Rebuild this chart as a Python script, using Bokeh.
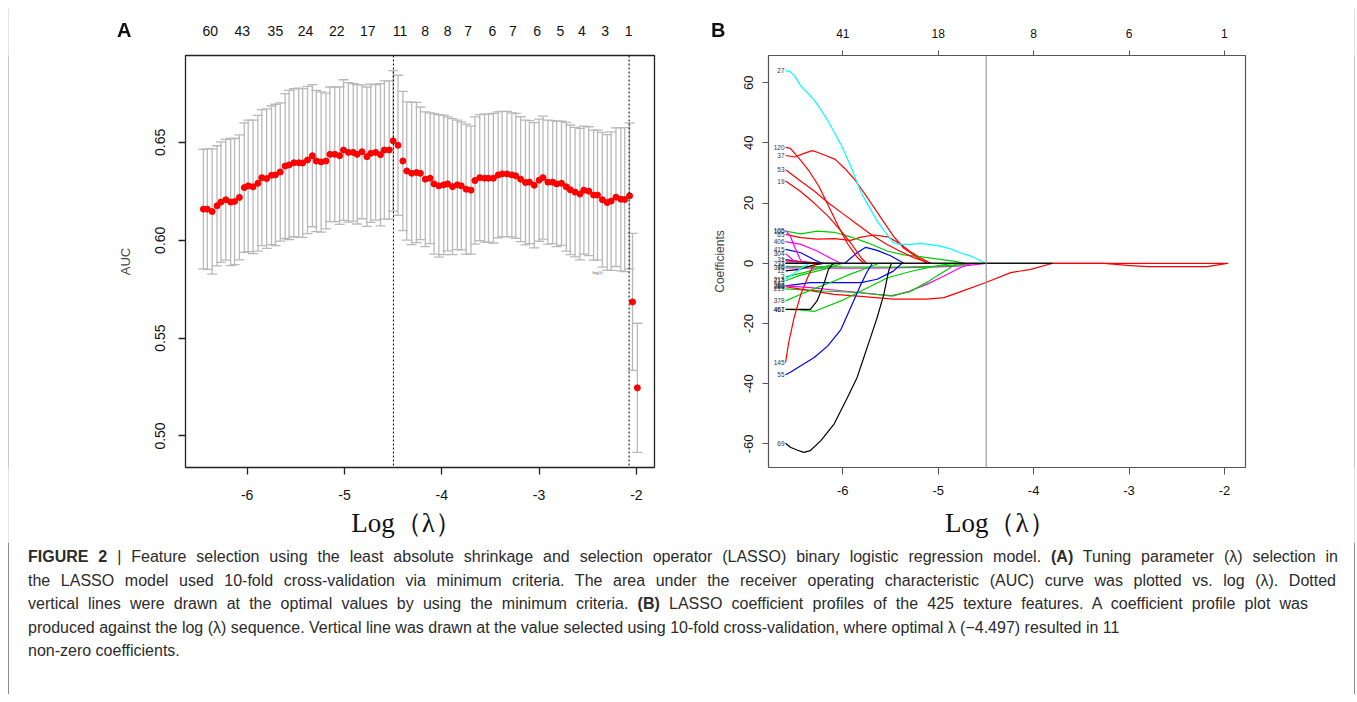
from bokeh.plotting import figure
from bokeh.models import (Range1d, FixedTicker, LinearAxis, Whisker, TeeHead,
                          ColumnDataSource, Span, Label, Div)
from bokeh.layouts import row, column
from bokeh.core.properties import value
from bokeh.embed import file_html
from bokeh.resources import INLINE

# ---------------- Panel A data: cross-validated AUC vs log(lambda) ----------------
log_lambda_a = [-6.45, -6.41, -6.36, -6.31, -6.27, -6.22, -6.17, -6.13, -6.08, -6.03,
                -5.99, -5.94, -5.89, -5.85, -5.80, -5.75, -5.71, -5.66, -5.61, -5.57,
                -5.52, -5.47, -5.43, -5.38, -5.33, -5.29, -5.24, -5.19, -5.15, -5.10,
                -5.05, -5.01, -4.96, -4.91, -4.87, -4.82, -4.77, -4.73, -4.68, -4.63,
                -4.59, -4.54, -4.50, -4.45, -4.40, -4.36, -4.31, -4.26, -4.22, -4.17,
                -4.12, -4.08, -4.03, -3.98, -3.94, -3.89, -3.84, -3.80, -3.75, -3.70,
                -3.66, -3.61, -3.56, -3.52, -3.47, -3.42, -3.38, -3.33, -3.28, -3.24,
                -3.19, -3.14, -3.10, -3.05, -3.00, -2.96, -2.91, -2.86, -2.82, -2.77,
                -2.72, -2.68, -2.63, -2.58, -2.54, -2.49, -2.44, -2.40, -2.35, -2.30,
                -2.26, -2.21, -2.16, -2.12, -2.07, -2.04, -1.99]
auc_mean = [0.6159, 0.6159, 0.6147, 0.6176, 0.6195, 0.6207, 0.6195, 0.6198, 0.6219, 0.6269,
            0.6278, 0.6273, 0.6291, 0.6320, 0.6315, 0.6332, 0.6334, 0.6349, 0.6379, 0.6385,
            0.6396, 0.6396, 0.6395, 0.6410, 0.6432, 0.6405, 0.6400, 0.6405, 0.6439, 0.6439,
            0.6432, 0.6461, 0.6449, 0.6449, 0.6439, 0.6452, 0.6427, 0.6444, 0.6449, 0.6437,
            0.6461, 0.6461, 0.6508, 0.6485, 0.6405, 0.6354, 0.6342, 0.6346, 0.6342, 0.6312,
            0.6317, 0.6288, 0.6278, 0.6283, 0.6288, 0.6274, 0.6283, 0.6278, 0.6261, 0.6256,
            0.6305, 0.6320, 0.6317, 0.6317, 0.6317, 0.6334, 0.6339, 0.6339, 0.6334, 0.6329,
            0.6312, 0.6295, 0.6297, 0.6281, 0.6307, 0.6320, 0.6297, 0.6297, 0.6288, 0.6291,
            0.6273, 0.6258, 0.6246, 0.6236, 0.6256, 0.6251, 0.6231, 0.6231, 0.6207, 0.6193,
            0.6200, 0.6220, 0.6210, 0.6208, 0.6227, 0.5685, 0.5246]
auc_se = [0.0305, 0.0308, 0.0320, 0.0307, 0.0308, 0.0308, 0.0325, 0.0322, 0.0319, 0.0331,
          0.0336, 0.0341, 0.0347, 0.0347, 0.0356, 0.0354, 0.0361, 0.0353, 0.0370, 0.0381,
          0.0378, 0.0381, 0.0380, 0.0376, 0.0363, 0.0361, 0.0358, 0.0347, 0.0344, 0.0344,
          0.0351, 0.0359, 0.0356, 0.0351, 0.0356, 0.0342, 0.0356, 0.0353, 0.0346, 0.0363,
          0.0353, 0.0353, 0.0359, 0.0358, 0.0356, 0.0353, 0.0364, 0.0358, 0.0339, 0.0344,
          0.0334, 0.0359, 0.0364, 0.0356, 0.0342, 0.0347, 0.0331, 0.0327, 0.0332, 0.0327,
          0.0325, 0.0322, 0.0327, 0.0327, 0.0331, 0.0322, 0.0320, 0.0320, 0.0317, 0.0319,
          0.0319, 0.0319, 0.0314, 0.0320, 0.0312, 0.0314, 0.0317, 0.0314, 0.0320, 0.0317,
          0.0329, 0.0331, 0.0331, 0.0336, 0.0327, 0.0329, 0.0332, 0.0332, 0.0344, 0.0347,
          0.0354, 0.0354, 0.0366, 0.0368, 0.0373, 0.0350, 0.0330]
selected_log_lambda_a = [-4.497, -2.075]
top_pos_a = [-6.38, -6.05, -5.71, -5.40, -5.08, -4.76, -4.43, -4.17, -3.94, -3.73,
             -3.48, -3.27, -3.02, -2.78, -2.56, -2.32, -2.08]
top_nz_a = ["60", "43", "35", "24", "22", "17", "11", "8", "8", "7",
            "6", "7", "6", "5", "4", "3", "1"]
y_ticks_a = [0.50, 0.55, 0.60, 0.65]
x_ticks = [-6, -5, -4, -3, -2]

# ---------------- Panel B data: coefficient profiles (log lambda, coefficient) ----------------
b27 = [(-6.60, 64.0), (-6.55, 63.6), (-6.50, 62.0), (-6.44, 58.9), (-6.37, 56.6), (-6.29, 53.8),
       (-6.23, 51.0), (-6.16, 47.5), (-6.09, 43.5), (-6.02, 39.5), (-5.92, 32.5), (-5.81, 23.6),
       (-5.71, 18.0), (-5.64, 14.0), (-5.57, 11.0), (-5.47, 6.8), (-5.40, 6.3), (-5.30, 6.3),
       (-5.19, 6.6), (-5.08, 6.2), (-4.98, 5.7), (-4.87, 4.8), (-4.77, 3.5), (-4.66, 2.4), (-4.50, 0.0)]
b120 = [(-6.60, 38.5), (-6.55, 38.2), (-6.45, 34.5), (-6.35, 30.5), (-6.25, 25.5), (-6.15, 19.0),
        (-6.05, 12.5), (-5.95, 6.5), (-5.85, 2.0), (-5.78, 0.0)]
b37 = [(-6.60, 35.8), (-6.50, 35.3), (-6.40, 36.6), (-6.32, 37.4), (-6.26, 36.8), (-6.18, 35.8),
       (-6.08, 34.5), (-5.98, 31.5), (-5.88, 28.0), (-5.74, 21.7), (-5.60, 15.1), (-5.47, 9.0),
       (-5.36, 5.0), (-5.22, 2.0), (-5.12, 0.0)]
b53 = [(-6.60, 31.1), (-6.45, 27.5), (-6.30, 24.0), (-6.15, 20.0), (-6.00, 16.5), (-5.85, 13.0),
       (-5.70, 9.5), (-5.55, 6.5), (-5.40, 4.0), (-5.25, 1.8), (-5.08, 0.0)]
b19 = [(-6.60, 27.3), (-6.45, 24.0), (-6.30, 20.0), (-6.15, 15.5), (-6.00, 10.0), (-5.90, 6.0),
       (-5.80, 1.5), (-5.75, 0.0)]
b105 = [(-6.60, 10.9), (-6.55, 9.0), (-6.50, 5.0), (-6.45, 1.5), (-6.42, 0.0)]
b100 = [(-6.60, 10.7), (-6.44, 9.8), (-6.27, 10.7), (-6.09, 10.3), (-5.92, 8.8), (-5.74, 6.8),
        (-5.53, 4.0), (-5.36, 2.8), (-5.19, 2.2), (-5.00, 1.4), (-4.84, 0.7), (-4.72, 0.0)]
b65 = [(-6.60, 9.6), (-6.44, 8.5), (-6.27, 8.0), (-6.09, 8.2), (-5.92, 7.6), (-5.81, 8.7),
       (-5.67, 9.4), (-5.53, 8.8), (-5.40, 6.5), (-5.30, 4.0), (-5.19, 1.9), (-5.08, 0.0)]
b406 = [(-6.60, 7.2), (-6.44, 6.3), (-6.27, 4.1), (-6.12, 1.5), (-6.02, 0.0)]
b415 = [(-6.60, 4.6), (-6.44, 3.5), (-6.30, 1.2), (-6.22, 0.0)]
b304 = [(-6.60, 3.2), (-6.52, 1.0), (-6.47, 0.0)]
b233 = [(-6.60, 0.0), (-5.98, 0.0), (-5.85, 3.5), (-5.76, 5.3), (-5.64, 4.3), (-5.50, 2.5), (-5.36, 0.0)]
b31 = [(-6.60, 1.2), (-6.45, 0.6), (-6.30, 0.0)]
b7 = [(-6.60, 0.8), (-6.40, 0.5), (-6.20, 0.0)]
b316 = [(-6.60, -1.5), (-6.00, -1.6), (-5.50, -1.5), (-5.00, -1.2), (-4.70, -0.8), (-4.50, 0.0)]
b40 = [(-6.60, -1.0), (-6.00, -1.2), (-5.40, -1.3), (-5.00, -1.0), (-4.60, 0.0)]
b12 = [(-6.60, -2.5), (-6.45, -2.0), (-6.30, -0.5), (-6.20, 0.0)]
b2 = [(-6.60, -4.5), (-6.40, -3.0), (-6.15, -0.8), (-6.05, 0.0)]
b213 = [(-6.60, -5.3), (-6.48, -2.6), (-6.35, 0.0)]
b214 = [(-6.60, -5.8), (-6.45, -4.0), (-6.20, -2.0), (-6.00, 0.0)]
b83 = [(-6.60, -7.5), (-6.34, -6.4), (-5.99, -6.4), (-5.81, -6.4), (-5.64, -5.3), (-5.47, -2.6), (-5.38, 0.0)]
b266 = [(-6.60, -7.5), (-6.34, -8.1), (-5.99, -9.2), (-5.64, -10.3), (-5.47, -10.8), (-5.30, -9.2),
        (-5.12, -7.0), (-4.94, -4.2), (-4.77, -1.5), (-4.65, 0.0)]
b288 = [(-6.60, -7.8), (-6.44, -8.6), (-6.09, -10.3), (-5.81, -11.0), (-5.47, -11.9), (-5.12, -11.9),
        (-4.94, -11.4), (-4.77, -9.5), (-4.50, -6.4), (-4.24, -3.1), (-4.03, -2.0), (-3.80, 0.0), (-1.96, 0.0)]
b219 = [(-6.60, -8.5), (-6.20, -9.2), (-5.85, -9.7), (-5.50, -10.8), (-5.30, -9.5), (-5.10, -6.0),
        (-4.95, -3.0), (-4.80, 0.0)]
b378 = [(-6.60, -12.5), (-6.44, -10.3), (-6.27, -8.1), (-6.09, -5.9), (-5.92, -3.6), (-5.74, -1.5), (-5.62, 0.0)]
b461 = [(-6.60, -15.3), (-6.45, -15.5), (-6.30, -16.0), (-6.02, -12.5), (-5.74, -8.1), (-5.53, -4.8),
        (-5.30, -2.8), (-5.05, -1.0), (-4.85, 0.0)]
b467 = [(-6.60, -15.3), (-6.34, -15.3), (-6.27, -12.5), (-6.20, -7.0), (-6.15, -2.0), (-6.10, 0.0)]
b145 = [(-6.60, -32.9), (-6.57, -26.8), (-6.51, -18.0), (-6.44, -10.3), (-6.37, -4.8), (-6.32, -1.5), (-6.28, 0.0)]
b55 = [(-6.60, -37.0), (-6.55, -36.2), (-6.44, -34.0), (-6.30, -31.3), (-6.16, -27.5), (-6.02, -22.0),
       (-5.95, -17.0), (-5.88, -12.0), (-5.81, -7.0), (-5.74, -2.5), (-5.69, 0.0)]
b69 = [(-6.60, -59.8), (-6.55, -61.1), (-6.48, -62.0), (-6.41, -62.8), (-6.34, -62.2), (-6.23, -58.9),
       (-6.09, -53.3), (-5.95, -44.5), (-5.85, -37.9), (-5.78, -31.3), (-5.71, -24.7), (-5.64, -18.0),
       (-5.57, -10.3), (-5.52, -2.6), (-5.49, 0.0)]
b_last = [(-3.80, 0.0), (-3.26, 0.0), (-3.02, -0.7), (-2.81, -1.1), (-2.18, -1.1), (-1.97, 0.0)]
zero_path = [(-6.60, 0.0), (-3.80, 0.0)]
selected_log_lambda_b = -4.497
top_nz_b = ["41", "18", "8", "6", "1"]
y_ticks_b = [-60, -40, -20, 0, 20, 40, 60]

R_RED, R_GREEN, R_BLUE, R_CYAN, R_MAG, R_BLACK = "#FF0000", "#00CD00", "#0000FF", "#00FFFF", "#FF00FF", "#000000"
paths_b = [
    ("233", R_BLUE, b233), ("31", R_BLUE, b31), ("7", R_RED, b7), ("316", R_MAG, b316),
    ("40", R_GREEN, b40), ("12", R_BLACK, b12), ("2", R_GREEN, b2), ("213", R_CYAN, b213),
    ("214", R_GREEN, b214), ("83", R_BLUE, b83), ("266", R_MAG, b266), ("219", R_GREEN, b219),
    ("288", R_RED, b288), ("378", R_GREEN, b378), ("461", R_GREEN, b461), ("467", R_BLACK, b467),
    ("145", R_RED, b145), ("55", R_BLUE, b55), ("69", R_BLACK, b69),
    ("304", R_MAG, b304), ("415", R_BLUE, b415), ("406", R_MAG, b406), ("65", R_RED, b65),
    ("100", R_GREEN, b100), ("105", R_MAG, b105), ("19", R_RED, b19), ("53", R_RED, b53),
    ("37", R_RED, b37), ("120", R_RED, b120), ("27", R_CYAN, b27),
]

SANS = "Liberation Sans"
SERIF = "Liberation Serif"
BORDER = "#8c8c8c"
NBSP = "\u00a0"
FIG_H = 535

# ================= Panel A =================
pa = figure(width=691, height=FIG_H, output_backend="svg", toolbar_location=None,
            x_range=Range1d(-6.634, -1.814), y_range=Range1d(0.4839, 0.6944),
            min_border_left=176, min_border_right=46, min_border_top=47, min_border_bottom=74)
pa.grid.visible = False
pa.outline_line_color = "#222222"
pa.outline_line_width = 1.3

xa = pa.xaxis[0]
xa.ticker = FixedTicker(ticks=x_ticks)
xa.major_label_overrides = {t: str(t) for t in x_ticks}
xa.axis_line_color = None
xa.major_tick_out = 7
xa.major_tick_in = 0
xa.minor_tick_line_color = None
xa.major_tick_line_color = "#222222"
xa.major_tick_line_width = 1.3
xa.major_label_standoff = 15
xa.major_label_text_font = SANS
xa.major_label_text_font_size = "14px"
xa.major_label_text_color = "#111111"
xa.axis_label = "Log（λ）" + NBSP * 4
xa.axis_label_text_font = SERIF
xa.axis_label_text_font_style = "normal"
xa.axis_label_text_font_size = "27px"
xa.axis_label_text_color = "#111111"
xa.axis_label_standoff = 5

ya = pa.yaxis[0]
ya.ticker = FixedTicker(ticks=y_ticks_a)
ya.major_label_overrides = {t: "%.2f" % t for t in y_ticks_a}
ya.major_label_orientation = "vertical"
ya.axis_line_color = None
ya.major_tick_out = 7
ya.major_tick_in = 0
ya.minor_tick_line_color = None
ya.major_tick_line_color = "#222222"
ya.major_tick_line_width = 1.3
ya.major_label_standoff = 13
ya.major_label_text_font = SANS
ya.major_label_text_font_size = "14px"
ya.major_label_text_color = "#111111"
ya.axis_label = "AUC"
ya.axis_label_text_font = SANS
ya.axis_label_text_font_style = "normal"
ya.axis_label_text_font_size = "13px"
ya.axis_label_standoff = 20

top_a = LinearAxis(ticker=FixedTicker(ticks=top_pos_a),
                   major_label_overrides={p: s for p, s in zip(top_pos_a, top_nz_a)},
                   axis_line_color=None, major_tick_line_color=None, minor_tick_line_color=None,
                   major_tick_out=0, major_label_standoff=20,
                   major_label_text_font=SANS, major_label_text_font_size="14px",
                   major_label_text_color="#111111")
pa.add_layout(top_a, "above")

src_a = ColumnDataSource(dict(x=log_lambda_a, auc=auc_mean,
                              lo=[m - s for m, s in zip(auc_mean, auc_se)],
                              hi=[m + s for m, s in zip(auc_mean, auc_se)]))
GRAY = "#b9b9b9"
whisk = Whisker(source=src_a, base="x", upper="hi", lower="lo", dimension="height",
                line_color=GRAY, line_width=1.3,
                upper_head=TeeHead(size=10, line_color=GRAY, line_width=1.3),
                lower_head=TeeHead(size=10, line_color=GRAY, line_width=1.3))
pa.add_layout(whisk)
pa.scatter("x", "auc", source=src_a, size=6, fill_color="#FF0000", line_color="#FF0000")
for loc in selected_log_lambda_a:
    pa.add_layout(Span(location=loc, dimension="height", line_color="black",
                       line_dash="2 2", line_width=1))
pa.add_layout(Label(x=-2.40, y=0.5836, text="log(λ)", text_font=SANS, text_font_size="4px",
                    text_color="#555555", text_align="center", text_baseline="middle"))

# ================= Panel B =================
pb = figure(width=654, height=FIG_H, output_backend="svg", toolbar_location=None,
            x_range=Range1d(-6.779, -1.779), y_range=Range1d(-67.83, 69.02),
            min_border_left=68, min_border_right=109, min_border_top=46, min_border_bottom=76)
pb.grid.visible = False
pb.outline_line_color = "#555555"
pb.outline_line_width = 1.2
BCOL = "#555555"

xb = pb.xaxis[0]
xb.ticker = FixedTicker(ticks=x_ticks)
xb.major_label_overrides = {t: str(t) for t in x_ticks}
xb.axis_line_color = None
xb.major_tick_out = 7
xb.major_tick_in = 0
xb.minor_tick_line_color = None
xb.major_tick_line_color = BCOL
xb.major_label_standoff = 11
xb.major_label_text_font = SANS
xb.major_label_text_font_size = "13px"
xb.major_label_text_color = "#111111"
xb.axis_label = "Log（λ）" + NBSP * 2
xb.axis_label_text_font = SERIF
xb.axis_label_text_font_style = "normal"
xb.axis_label_text_font_size = "27px"
xb.axis_label_text_color = "#111111"
xb.axis_label_standoff = 10

yb = pb.yaxis[0]
yb.ticker = FixedTicker(ticks=y_ticks_b)
yb.major_label_overrides = {t: str(t) for t in y_ticks_b}
yb.major_label_orientation = "vertical"
yb.axis_line_color = None
yb.major_tick_out = 6
yb.major_tick_in = 0
yb.minor_tick_line_color = None
yb.major_tick_line_color = BCOL
yb.major_label_standoff = 9
yb.major_label_text_font = SANS
yb.major_label_text_font_size = "13px"
yb.major_label_text_color = "#111111"
yb.axis_label = "Coefficients"
yb.axis_label_text_font = SANS
yb.axis_label_text_font_style = "normal"
yb.axis_label_text_font_size = "12px"
yb.axis_label_standoff = 15

top_b = LinearAxis(ticker=FixedTicker(ticks=x_ticks),
                   major_label_overrides={t: s for t, s in zip(x_ticks, top_nz_b)},
                   axis_line_color=None, major_tick_line_color=BCOL, minor_tick_line_color=None,
                   major_tick_out=5, major_tick_in=0, major_label_standoff=13,
                   major_label_text_font=SANS, major_label_text_font_size="12px",
                   major_label_text_color="#111111")
pb.add_layout(top_b, "above")

for name, col, pts in paths_b:
    pb.line([p[0] for p in pts], [p[1] for p in pts], line_color=col, line_width=1.2)
pb.line([p[0] for p in zero_path], [p[1] for p in zero_path], line_color="#111111", line_width=1.6)
pb.line([p[0] for p in b_last], [p[1] for p in b_last], line_color=R_RED, line_width=1.2)

pb.text(x=[pts[0][0] for _, _, pts in paths_b], y=[pts[0][1] for _, _, pts in paths_b],
        text=[name for name, _, _ in paths_b], text_font=value(SANS), text_font_size="6.5px",
        text_color="#333333", text_align="right", text_baseline="middle", x_offset=-1)

pb.add_layout(Span(location=selected_log_lambda_b, dimension="height",
                   line_color="#888888", line_width=1))

# ================= Caption + panel letters =================
caption_lines = [
    "<b>FIGURE 2</b> | Feature selection using the least absolute shrinkage and selection operator (LASSO) binary logistic regression model. <b>(A)</b> Tuning parameter (λ) selection in",
    "the LASSO model used 10-fold cross-validation via minimum criteria. The area under the receiver operating characteristic (AUC) curve was plotted vs. log (λ). Dotted",
    "vertical lines were drawn at the optimal values by using the minimum criteria. <b>(B)</b> LASSO coefficient profiles of the 425 texture features. A coefficient profile plot was",
    "produced against the log (λ) sequence. Vertical line was drawn at the value selected using 10-fold cross-validation, where optimal λ (−4.497) resulted in 11",
    "non-zero coefficients.",
]
line_widths = [1310, 1308, 1280, None, None]
parts = []
for txt, w in zip(caption_lines, line_widths):
    if w:
        parts.append('<div style="width:%dpx; text-align:justify; text-align-last:justify;">%s</div>' % (w, txt))
    else:
        parts.append('<div style="white-space:nowrap;">%s</div>' % txt)
letter_css = ("position:fixed; top:20px; z-index:1000; font-family:'Liberation Sans', Arial, sans-serif; "
              "font-weight:bold; font-size:20px; line-height:20px; color:#111111;")
overlay = ('<div style="%s left:117px;">A</div>' % letter_css
           + '<div style="%s left:711px;">B</div>' % letter_css)
cap_html = (overlay
            + '<div style="padding:2px 0 0 19px; font-family:\'Liberation Sans\', Arial, sans-serif; '
              'font-size:16px; line-height:23.5px; color:#2b2b2b;">' + "".join(parts) + "</div>")
cap = Div(text=cap_html, width=1345, height=151, margin=0)


# ================= Outer frame of the figure (thin filled strips) =================
def strip(w, h, title_side="above"):
    s = figure(width=w, height=h, output_backend="svg", toolbar_location=None,
               x_axis_type=None, y_axis_type=None, min_border=0, title_location=title_side,
               border_fill_color=BORDER, background_fill_color=BORDER, outline_line_color=None)
    s.grid.visible = False
    return s


def vline(h):
    return Div(text="", width=1, height=h, margin=0, styles={"background-color": BORDER})


row1 = row(strip(1, FIG_H), pa, pb, strip(1, FIG_H))
row2 = row(vline(151), cap, vline(151))
layout = column(strip(1347, 1, "left"), row1, row2, margin=(7, 0, 0, 8))

open("out.html", "w").write(file_html(layout, INLINE))
